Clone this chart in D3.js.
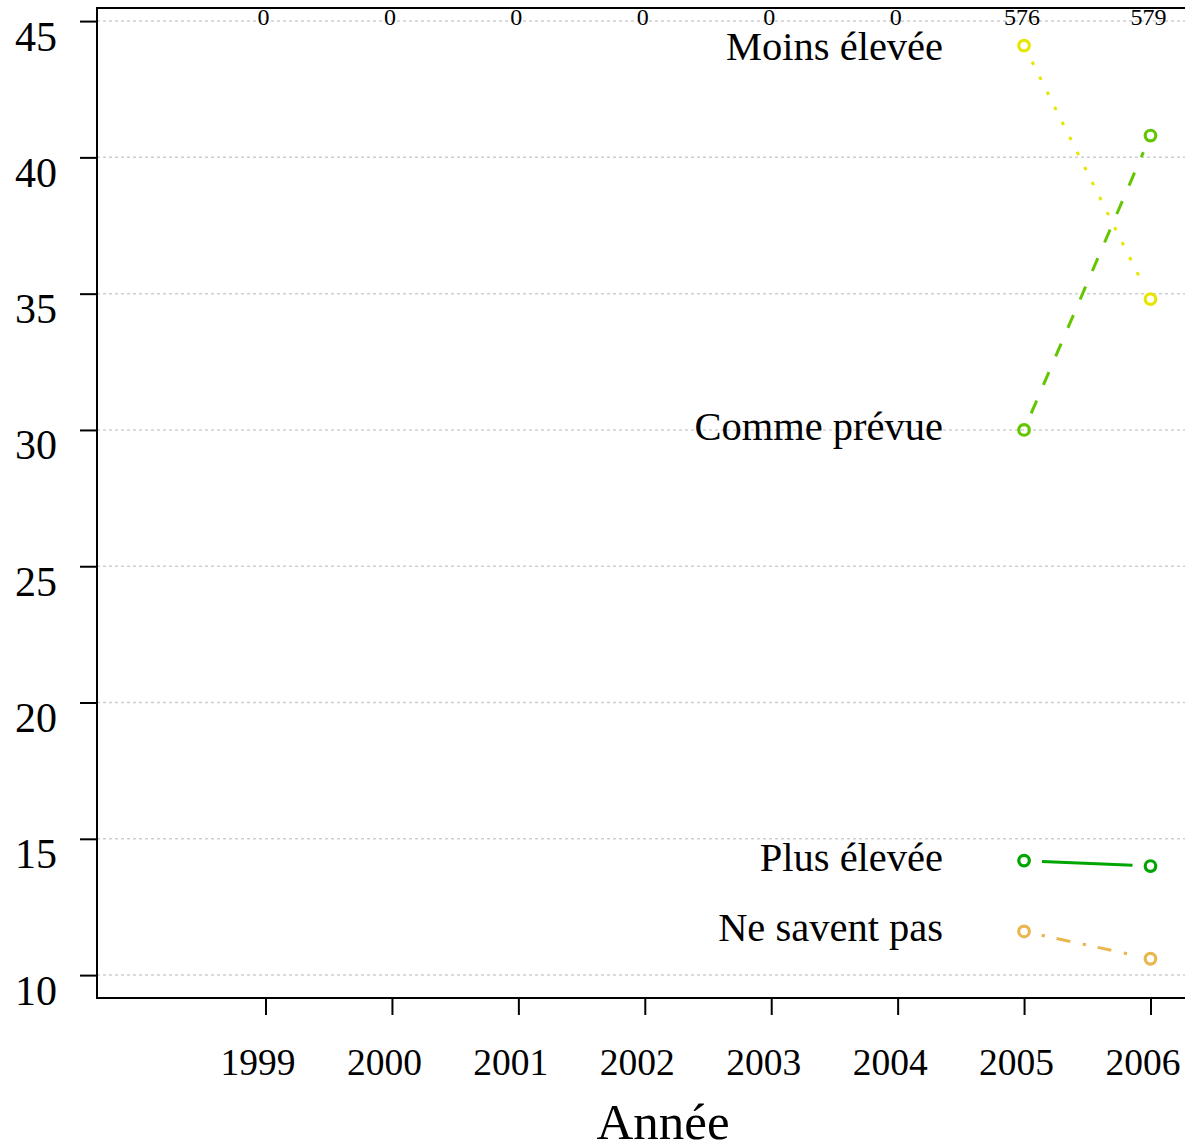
<!DOCTYPE html>
<html><head><meta charset="utf-8">
<script src="https://cdn.jsdelivr.net/npm/d3@7"></script>
<style>body{margin:0;background:#fff}svg{display:block}</style>
</head><body>
<script>
const years = [1999, 2000, 2001, 2002, 2003, 2004, 2005, 2006];
const counts = [0, 0, 0, 0, 0, 0, 576, 579];
const yTicks = [10, 15, 20, 25, 30, 35, 40, 45];
const seriesNames = ["Moins élevée", "Comme prévue", "Plus élevée", "Ne savent pas"];
const seriesYears = [2005, 2006];
const moinsElevee = [44.1, 34.8];
const commePrevue = [30.0, 40.8];
const plusElevee = [14.2, 14.0];
const neSaventPas = [11.6, 10.6];
const seriesColors = ["#E6E600", "#63C600", "#00A600", "#EAB64E"];
const seriesDash = ["3.5,13.3", "14,17", null, "3.3,12,14,12.7"];
const xTitle = "Année";

const W = 1185, H = 1145;
const FONT = "'Liberation Serif', 'Times New Roman', serif";
const svg = d3.select("body").append("svg").attr("width", W).attr("height", H)
  .style("font-family", FONT);

const x = d3.scaleLinear().domain([1997.667, 2006.273]).range([97, 1185]);
const y = d3.scaleLinear().domain([9.16, 45.48]).range([998, 8]);

// grid
svg.append("g").selectAll("line").data(yTicks).join("line")
  .attr("x1", 97).attr("x2", W).attr("y1", d => y(d)).attr("y2", d => y(d))
  .attr("stroke", "#cfcfcf").attr("stroke-width", 1.5).attr("stroke-dasharray", "3,3");

// frame
svg.append("path").attr("d", `M${W},${y.range()[1]}H97V${y.range()[0]}H${W}`)
  .attr("fill", "none").attr("stroke", "#000").attr("stroke-width", 2);

// y axis
const yAxis = svg.append("g").attr("transform", "translate(97,0)")
  .call(d3.axisLeft(y).tickValues(yTicks).tickSize(17).tickPadding(0).tickFormat(d3.format("d")));
yAxis.select(".domain").remove();
yAxis.selectAll(".tick line").attr("stroke-width", 2);
yAxis.selectAll(".tick text").attr("x", -40).attr("dy", 29)
  .style("font-size", "42px").style("font-family", FONT).attr("fill", "#000");

// x axis
const xAxis = svg.append("g").attr("transform", `translate(0,${y.range()[0]})`)
  .call(d3.axisBottom(x).tickValues(years).tickSize(17).tickPadding(0).tickFormat(d3.format("d")));
xAxis.select(".domain").remove();
xAxis.selectAll(".tick line").attr("stroke-width", 2);
xAxis.selectAll(".tick text").attr("x", -8).attr("y", 77).attr("dy", 0)
  .style("font-size", "37.5px").style("font-family", FONT).attr("fill", "#000");

// counts on top
svg.append("g").selectAll("text").data(years).join("text")
  .attr("x", d => x(d) - 2).attr("y", 25).attr("text-anchor", "middle")
  .style("font-size", "24px").text((d, i) => counts[i]);

// series
const allSeries = [moinsElevee, commePrevue, plusElevee, neSaventPas];
const GAP = 18;
allSeries.forEach((vals, si) => {
  const g = svg.append("g");
  const pts = vals.map((v, i) => [x(seriesYears[i]), y(v)]);
  for (let i = 0; i < pts.length - 1; i++) {
    const [x0, y0] = pts[i], [x1, y1] = pts[i + 1];
    const L = Math.hypot(x1 - x0, y1 - y0);
    const ux = (x1 - x0) / L, uy = (y1 - y0) / L;
    const ln = g.append("line")
      .attr("x1", x0 + ux * GAP).attr("y1", y0 + uy * GAP)
      .attr("x2", x1 - ux * GAP).attr("y2", y1 - uy * GAP)
      .attr("stroke", seriesColors[si]).attr("stroke-width", 3);
    if (seriesDash[si]) ln.attr("stroke-dasharray", seriesDash[si]);
  }
  g.selectAll("circle").data(pts).join("circle")
    .attr("cx", d => d[0]).attr("cy", d => d[1]).attr("r", 5.3)
    .attr("fill", "none").attr("stroke", seriesColors[si]).attr("stroke-width", 3.2);
  const ly = Math.max(pts[0][1] + 10, 60);
  svg.append("text").attr("x", x(seriesYears[0]) - 81).attr("y", ly)
    .attr("text-anchor", "end").style("font-size", "40.5px").text(seriesNames[si]);
});

// x title
svg.append("text").attr("x", 663).attr("y", 1139).attr("text-anchor", "middle")
  .style("font-size", "51px").text(xTitle);
</script>
</body></html>
